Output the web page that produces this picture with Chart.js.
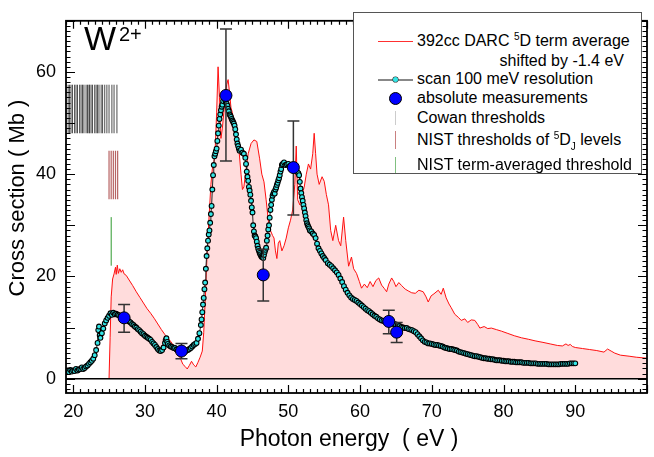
<!DOCTYPE html>
<html lang="en">
<head>
<meta charset="UTF-8" />
<title>W2+ photoionization cross section</title>
<script src="https://cdn.jsdelivr.net/npm/chart.js@4.4.1/dist/chart.umd.min.js"></script>
<style>
  body { margin: 0; background: #fff; }
  .wrap {
    position: relative;
    width: 654px;
    height: 457px;
    font-family: "Liberation Sans", Arial, Helvetica, sans-serif;
    color: #000;
  }
  canvas { position: absolute; left: 0; top: 0; }
  .ion { position: absolute; left: 84px; top: 21px; font-size: 34px; line-height: 34px; }
  .ion-sup { position: absolute; left: 119px; top: 24px; font-size: 20px; line-height: 20px; }
  .legend {
    position: absolute;
    left: 353px;
    top: 12px;
    width: 287px;
    height: 160px;
    border: 1px solid #555;
    background: #fff;
    font-size: 16px;
  }
  .row { position: absolute; left: 63px; height: 20px; line-height: 20px; white-space: nowrap; }
  .row.right { left: auto; right: 17px; }
  .sup { font-size: 10px; position: relative; top: -6px; }
  .sub { font-size: 10px; position: relative; top: 5px; }
  .sym { position: absolute; }
  .hline { height: 1px; width: 35px; left: 24px; }
  .vline { width: 1px; left: 41px; }
</style>
</head>
<body>
<div class="wrap">
  <canvas id="chart" width="654" height="457"></canvas>
  <div class="ion">W</div>
  <div class="ion-sup">2+</div>
  <div class="legend">
    <div class="sym hline" style="top:28px; background:#ff3030;"></div>
    <div class="row" style="top:18px;">392cc DARC <span class="sup">5</span>D term average</div>
    <div class="row right" style="top:38px;">shifted by -1.4 eV</div>
    <div class="sym hline" style="top:66px; height:2px; background:#888;"></div>
    <div class="sym" style="left:39px; top:64px; width:5px; height:5px; border-radius:50%; background:#33e6e6; box-shadow:0 0 0 0.6px #333;"></div>
    <div class="row" style="top:56px;">scan 100 meV resolution</div>
    <div class="sym" style="left:35px; top:79px; width:11px; height:11px; border-radius:50%; background:#0000ff; border:1px solid #000;"></div>
    <div class="row" style="top:75px;">absolute measurements</div>
    <div class="sym vline" style="top:98px; height:14px; background:#cccccc;"></div>
    <div class="row" style="top:95px;">Cowan thresholds</div>
    <div class="sym vline" style="top:118px; height:18px; background:#c98080;"></div>
    <div class="row" style="top:117px;">NIST thresholds of <span class="sup">5</span>D<span class="sub">J</span> levels</div>
    <div class="sym vline" style="top:144px; height:16px; background:#80c080;"></div>
    <div class="row" style="top:142px;">NIST term-averaged threshold</div>
  </div>
</div>
<script>
  // theory: 392cc DARC, shifted by -1.4 eV
  const theoryE = [25.0, 25.15, 25.3, 25.5, 25.7, 25.9, 26.0, 26.15, 26.3, 26.5, 26.7, 26.9, 27.1, 27.4, 27.8,
    28.3, 28.8, 29.3, 29.8, 30.3, 30.8, 31.3, 31.8, 32.3, 32.8, 33.3, 33.8, 34.3, 34.7, 35.0, 35.3, 35.6, 35.9,
    36.2, 36.5, 36.8, 37.1, 37.4, 37.7, 38.0, 38.2, 38.4, 38.6, 38.8, 39.0, 39.2, 39.4, 39.6, 39.8, 40.0, 40.2,
    40.4, 40.6, 40.8, 41.0, 41.2, 41.4, 41.6, 41.8, 42.0, 42.2, 42.5, 42.8, 43.1, 43.4, 43.6, 43.8, 44.1, 44.4,
    44.8, 45.2, 45.6, 46.0, 46.3, 46.6, 46.9, 47.2, 47.5, 47.8, 48.0, 48.2, 48.4, 48.6, 48.8, 49.1, 49.4, 49.7,
    50.0, 50.3, 50.6, 50.9, 51.1, 51.3, 51.6, 51.9, 52.2, 52.5, 52.8, 53.1, 53.4, 53.6, 53.8, 54.0, 54.3, 54.7,
    55.0, 55.3, 55.6, 55.9, 56.2, 56.6, 57.0, 57.3, 57.7, 58.0, 58.4, 58.8, 59.1, 59.5, 59.9, 60.2, 60.6, 61.0,
    61.4, 61.8, 62.2, 62.6, 63.0, 63.4, 63.7, 64.0, 64.4, 64.7, 65.0, 65.4, 65.8, 66.3, 66.8, 67.2, 67.7, 68.2,
    68.8, 69.2, 69.5, 69.9, 70.3, 70.9, 71.3, 71.6, 72.0, 72.4, 72.7, 73.2, 73.7, 74.1, 74.6, 75.0, 75.5, 76.0,
    76.4, 76.7, 77.3, 77.8, 78.3, 79.0, 79.7, 80.5, 81.5, 82.5, 83.5, 84.4, 85.5, 86.5, 87.5, 88.2, 88.7, 89.0,
    89.3, 89.6, 90.0, 91.0, 92.0, 93.0, 94.0, 94.5, 95.0, 95.5, 96.3, 97.5, 98.5, 100.0];
  const theoryS = [0, 8, 16, 19.5, 20.5, 21.8, 20.4, 22.2, 20.6, 21.5, 20.8, 21.3, 20.5, 20.2, 19.3,
    18.2, 17.0, 15.9, 14.8, 13.7, 12.8, 11.8, 10.7, 9.6, 8.6, 7.8, 6.9, 5.9, 5.0, 3.8, 2.8, 2.4, 1.9,
    2.6, 3.4, 2.7, 2.3, 3.2, 4.2, 5.4, 9, 15, 22, 28, 33, 38, 41, 42, 45, 52, 61,
    55, 47, 49, 52, 55, 57.5, 58.5, 56, 53, 52, 49, 47, 45, 40, 37, 37.5, 41, 44,
    46, 46.7, 46.4, 43, 40, 38.5, 35, 31, 29, 28, 27.5, 25, 23.5, 26.5, 27, 25, 26, 27.5,
    29.5, 31, 33, 38, 45.5, 35, 34, 36, 37.4, 40, 42, 41, 44, 48, 44, 40, 38, 39.5,
    38.6, 36, 34, 29, 27, 30, 27, 26, 31.6, 27, 22, 23.8, 21.5, 20.6, 19, 17.7, 18.5, 17.8,
    19, 18, 19.2, 19.7, 18.3, 17.6, 17, 18.5, 19.7, 19.0, 18.0, 18.8, 18.2, 17.5, 17.1, 16.8, 16.7, 17.3,
    17.0, 16.0, 15.0, 16.2, 16.6, 17.3, 16.5, 17.7, 15.8, 14.6, 13.9, 12.6, 12.0, 11.4, 11.7, 11.0, 11.5, 11.4,
    10.6, 9.9, 10.2, 9.8, 9.9, 9.6, 9.3, 8.9, 8.4, 8.0, 7.7, 7.4, 7.1, 6.8, 6.5, 6.4, 6.8, 6.5,
    6.7, 6.3, 6.1, 5.9, 5.7, 5.5, 5.2, 5.8, 5.4, 5.0, 4.6, 4.4, 4.2, 4.0];

  // scan, 100 meV resolution
  const scanE = [19.2, 19.4, 19.6, 19.8, 20.0, 20.2, 20.4, 20.6, 20.8, 21.0, 21.2, 21.4, 21.6, 21.8, 22.0,
    22.2, 22.4, 22.6, 22.8, 23.0, 23.2, 23.4, 23.5, 23.6, 23.7, 23.8, 24.0, 24.2, 24.4, 24.6, 24.8, 25.0,
    25.2, 25.4, 25.6, 25.8, 26.0, 26.2, 26.4, 26.6, 26.8, 27.0, 27.2, 27.4, 27.6, 27.8, 28.0, 28.2, 28.4,
    28.6, 28.8, 29.0, 29.2, 29.4, 29.6, 29.8, 30.0, 30.2, 30.4, 30.6, 30.8, 31.0, 31.2, 31.4, 31.6, 31.8,
    32.0, 32.2, 32.4, 32.6, 32.8, 32.9, 33.0, 33.1, 33.2, 33.4, 33.6, 33.8, 34.0, 34.2, 34.4, 34.6, 34.8,
    35.0, 35.2, 35.4, 35.6, 35.8, 36.0, 36.2, 36.4, 36.6, 36.8, 37.0, 37.2, 37.4, 37.6, 37.8, 37.9,
    38.0, 38.1, 38.2, 38.3, 38.4, 38.5, 38.6, 38.7, 38.8, 38.9, 39.0, 39.1, 39.2, 39.3, 39.4, 39.5,
    39.6, 39.7, 39.8, 39.9, 40.0, 40.1, 40.2, 40.3, 40.4, 40.5, 40.6, 40.7, 40.8, 40.9, 41.0, 41.1, 41.2, 41.3,
    41.4, 41.5, 41.6, 41.7, 41.8, 41.9, 42.0, 42.1, 42.2, 42.3, 42.4, 42.5, 42.6, 42.7, 42.8, 42.9, 43.0, 43.1,
    43.2, 43.4, 43.6, 43.8, 44.0, 44.1, 44.2, 44.3, 44.4, 44.5, 44.6, 44.7, 44.8, 44.9, 45.0, 45.1, 45.2, 45.3,
    45.4, 45.5, 45.6, 45.7, 45.8, 45.9, 46.0, 46.1, 46.2, 46.3, 46.4, 46.5, 46.6, 46.7, 46.8, 46.9, 47.0, 47.1,
    47.2, 47.3, 47.4, 47.5, 47.6, 47.7, 47.8, 47.9, 48.0, 48.1, 48.2, 48.3, 48.4, 48.5, 48.6, 48.7, 48.8, 48.9,
    49.0, 49.1, 49.2, 49.4, 49.6, 49.8, 50.0, 50.2, 50.4, 50.6, 50.8, 51.0, 51.2, 51.4, 51.5, 51.6, 51.7, 51.8,
    51.9, 52.0, 52.1, 52.2, 52.3, 52.4, 52.5, 52.6, 52.7, 52.8, 52.9, 53.0, 53.2, 53.4, 53.6, 53.8, 54.0, 54.2,
    54.4, 54.6, 54.8, 55.0, 55.2, 55.5, 55.75, 56.0, 56.25, 56.5, 56.75, 57.0, 57.25, 57.5, 57.75, 58.0, 58.25,
    58.5, 58.75, 59.0, 59.25, 59.5, 59.75, 60.0, 60.25, 60.5, 60.75, 61.0, 61.25, 61.5, 61.75, 62.0, 62.25,
    62.5, 62.75, 63.0, 63.25, 63.5, 63.75, 64.0, 64.25, 64.5, 64.75, 65.0, 65.25, 65.5, 65.75, 66.0, 66.25,
    66.5, 66.75, 67.0, 67.25, 67.5, 67.75, 68.0, 68.25, 68.5, 68.75, 69.0, 69.25, 69.5, 69.75, 70.0, 70.25,
    70.5, 70.75, 71.0, 71.25, 71.5, 71.75, 72.0, 72.25, 72.5, 72.75, 73.0, 73.25, 73.5, 73.75, 74.0, 74.25,
    74.5, 74.75, 75.0, 75.25, 75.5, 75.75, 76.0, 76.25, 76.5, 76.75, 77.0, 77.25, 77.5, 77.75, 78.0, 78.25,
    78.5, 78.75, 79.0, 79.25, 79.5, 79.75, 80.0, 80.25, 80.5, 80.75, 81.0, 81.25, 81.5, 81.75, 82.0, 82.25,
    82.5, 82.75, 83.0, 83.25, 83.5, 83.75, 84.0, 84.25, 84.5, 84.75, 85.0, 85.25, 85.5, 85.75, 86.0, 86.25,
    86.5, 86.75, 87.0, 87.25, 87.5, 87.75, 88.0, 88.25, 88.5, 88.75, 89.0, 89.25, 89.5, 89.75, 90.0];
  const scanS = [1.6, 1.3, 1.7, 1.4, 1.6, 1.5, 1.9, 1.6, 1.8, 1.9, 2.2, 1.9, 2.1, 2.4, 2.6,
    2.9, 3.2, 3.5, 3.9, 4.6, 5.6, 7.0, 9.5, 10.2, 8.5, 8.0, 8.9, 9.8, 10.8, 11.4, 11.9, 12.3,
    12.8, 12.5, 12.9, 12.6, 12.7, 12.5, 12.4, 12.2, 12.1, 11.9, 11.6, 11.5, 11.4, 11.2, 11.0, 10.7, 10.5,
    10.2, 10.0, 9.7, 9.5, 9.2, 8.9, 8.7, 8.4, 8.2, 8.0, 7.8, 7.6, 7.2, 6.9, 6.6, 6.2, 5.8,
    5.5, 5.4, 5.6, 6.1, 7.0, 7.6, 7.9, 7.2, 6.8, 6.5, 6.3, 6.2, 6.0, 6.0, 5.7, 5.5, 5.4,
    5.3, 5.3, 5.2, 5.3, 5.5, 5.6, 5.8, 6.0, 6.3, 6.6, 6.8, 7.0, 7.8, 8.9, 10.5, 11.6,
    13.0, 14.5, 15.8, 17.5, 18.8, 21.5, 24.0, 25.5, 27.0, 28.2, 29.0, 30.5, 32.2, 33.8, 37.0, 39.8,
    41.8, 43.5, 44.0, 44.5, 45.0, 46.5, 48.0, 49.5, 50.8, 51.7, 52.5, 53.2, 53.6, 54.3, 55.0, 55.2, 54.5, 54.0,
    53.8, 53.4, 52.8, 52.3, 51.7, 51.5, 51.2, 50.8, 50.5, 50.2, 49.9, 49.5, 48.8, 47.8, 46.8, 46.0, 45.5, 45.0,
    44.6, 44.8, 44.2, 44.0, 43.2, 42.0, 40.5, 39.5, 38.7, 37.5, 36.8, 36.0, 34.8, 33.5, 32.5, 30.0, 28.8, 28.0,
    27.8, 27.5, 26.8, 26.0, 25.4, 25.0, 24.6, 24.3, 24.0, 23.8, 23.8, 23.6, 24.2, 24.8, 25.2, 25.6, 27.0, 28.0,
    29.2, 30.0, 31.5, 33.0, 34.0, 35.0, 35.8, 36.2, 36.5, 36.2, 37.0, 37.4, 37.9, 38.3, 38.8, 39.2, 39.8, 40.5,
    41.0, 41.8, 42.0, 42.3, 41.8, 41.9, 42.0, 41.6, 41.5, 41.3, 41.0, 40.8, 40.5, 40.2, 39.8, 38.5, 37.2, 36.3,
    35.5, 34.8, 34.0, 33.3, 32.5, 31.8, 31.0, 30.4, 30.0, 29.7, 29.4, 29.0, 28.8, 28.4, 28.1, 27.5, 26.4, 25.5,
    25.0, 24.5, 24.0, 23.6, 23.2, 22.6, 22.3, 22.0, 21.6, 21.2, 20.8, 20.3, 19.6, 18.9, 18.1, 17.4, 16.8,
    16.3, 15.9, 15.6, 15.4, 15.2, 14.9, 14.6, 14.3, 14.0, 13.7, 13.4, 13.2, 12.9, 12.6, 12.3, 12.1,
    11.8, 11.6, 11.4, 11.3, 11.2, 11.1, 11.0, 10.9, 10.8, 10.7, 10.6, 10.5, 10.3, 10.1, 10.0, 9.9,
    9.9, 9.7, 9.6, 9.5, 9.3, 9.1, 8.7, 8.3, 7.9, 7.5, 7.2, 7.1, 6.9, 6.9, 6.8, 6.7,
    6.6, 6.6, 6.5, 6.4, 6.3, 6.1, 6.0, 5.9, 5.8, 5.8, 5.7, 5.6, 5.5, 5.3, 5.2, 5.1,
    5.0, 4.9, 4.8, 4.7, 4.6, 4.5, 4.4, 4.4, 4.3, 4.2, 4.1, 4.0, 4.0, 3.9, 3.9, 3.8,
    3.8, 3.7, 3.6, 3.6, 3.6, 3.5, 3.5, 3.4, 3.4, 3.4, 3.3, 3.3, 3.3, 3.2, 3.2, 3.2,
    3.2, 3.1, 3.1, 3.1, 3.1, 3.0, 3.0, 3.0, 3.0, 2.9, 2.9, 2.9, 2.9, 2.9, 2.9, 2.8,
    2.8, 2.8, 2.8, 2.8, 2.8, 2.8, 2.9, 2.9, 2.9, 2.9, 2.9, 3.0, 3.0, 3.0, 3.0];

  // absolute measurements with error bars
  const absE = [27.1, 35.1, 41.3, 46.5, 50.7, 64.0, 65.1];
  const absS = [11.9, 5.4, 55.4, 20.3, 41.3, 11.2, 9.1];
  const absLo = [9.1, 3.9, 42.6, 15.2, 32.0, 8.8, 7.1];
  const absHi = [14.5, 6.9, 68.4, 25.3, 50.4, 13.4, 11.0];

  // thresholds: energies and the vertical span of each group
  const cowanE = [19.3, 19.5, 19.7, 19.9, 20.2, 20.4, 20.6, 20.9, 21.1, 21.3, 21.5, 21.8, 22.0, 22.2, 22.3,
    22.5, 22.7, 23.0, 23.2, 23.4, 23.6, 23.9, 24.1, 24.4, 24.7, 25.0, 25.4, 25.7, 26.1];
  const cowanSpan = [48, 57.5];
  const nistE = [25.0, 25.3, 25.6, 25.9, 26.2];
  const nistSpan = [35.1, 44.6];
  const nistAvgE = [25.3];
  const nistAvgSpan = [22.1, 31.6];

  // axes
  const xRange = [19, 100];
  const yRange = [-2.8, 70];
  const xTicks = [20, 30, 40, 50, 60, 70, 80, 90];
  const yTicks = [0, 20, 40, 60];
  const xMinorStep = 1;
  const yMinorStep = 1;

  const font = '"Liberation Sans", Arial, Helvetica, sans-serif';

  function points(xs, ys) {
    return xs.map((x, i) => ({ x: x, y: ys[i] }));
  }

  function vlines(es, span) {
    const pts = [];
    es.forEach((e) => {
      pts.push({ x: e, y: span[0] }, { x: e, y: span[1] }, { x: e, y: null });
    });
    return pts;
  }

  const SCAN = 1;
  const THEORY = 5;

  const framePlugin = {
    id: "frame",
    afterDatasetDraw(chart, args) {
      const { ctx, chartArea: a, scales } = chart;
      const x = scales.x, y = scales.y;
      if (args.index === THEORY) {
        // zero line
        const y0 = y.getPixelForValue(0);
        ctx.save();
        ctx.strokeStyle = "#000";
        ctx.lineWidth = 1.5;
        ctx.beginPath();
        ctx.moveTo(a.left, y0);
        ctx.lineTo(a.right, y0);
        ctx.stroke();
        ctx.restore();
      }
      if (args.index === SCAN) {
        // error bars of the absolute measurements
        ctx.save();
        ctx.strokeStyle = "#333";
        ctx.lineWidth = 1.5;
        absE.forEach((e, i) => {
          const px = x.getPixelForValue(e);
          const lo = y.getPixelForValue(absLo[i]);
          const hi = y.getPixelForValue(absHi[i]);
          ctx.beginPath();
          ctx.moveTo(px, lo);
          ctx.lineTo(px, hi);
          ctx.moveTo(px - 6, lo);
          ctx.lineTo(px + 6, lo);
          ctx.moveTo(px - 6, hi);
          ctx.lineTo(px + 6, hi);
          ctx.stroke();
        });
        ctx.restore();
      }
    },
    afterDraw(chart) {
      const { ctx, chartArea: a, scales } = chart;
      const x = scales.x, y = scales.y;
      ctx.save();
      ctx.strokeStyle = "#000";
      ctx.lineWidth = 1.2;
      ctx.beginPath();
      for (let v = Math.ceil(xRange[0]); v <= xRange[1]; v += xMinorStep) {
        const px = Math.round(x.getPixelForValue(v)) + 0.5;
        const len = v % 10 === 0 ? 8 : 4;
        ctx.moveTo(px, a.bottom);
        ctx.lineTo(px, a.bottom - len);
        ctx.moveTo(px, a.top);
        ctx.lineTo(px, a.top + len);
      }
      for (let v = Math.ceil(yRange[0]); v <= yRange[1]; v += yMinorStep) {
        const py = Math.round(y.getPixelForValue(v)) + 0.5;
        const len = v % 10 === 0 ? 9 : 4.5;
        ctx.moveTo(a.left, py);
        ctx.lineTo(a.left + len, py);
        ctx.moveTo(a.right, py);
        ctx.lineTo(a.right - len, py);
      }
      ctx.stroke();
      ctx.lineWidth = 1.8;
      ctx.strokeRect(a.left, a.top, a.right - a.left, a.bottom - a.top);

      // axis titles
      ctx.fillStyle = "#000";
      ctx.textAlign = "center";
      ctx.textBaseline = "middle";
      ctx.font = "23px " + font;
      ctx.fillText("Photon energy  ( eV )", 349, 440);
      ctx.font = "22px " + font;
      ctx.translate(18, 198);
      ctx.rotate(-Math.PI / 2);
      ctx.fillText("Cross section ( Mb )", 0, 0);
      ctx.restore();
    },
  };

  const tickFont = { family: font, size: 18 };

  new Chart(document.getElementById("chart"), {
    type: "line",
    data: {
      datasets: [
        {
          label: "absolute measurements",
          data: points(absE, absS),
          showLine: false,
          pointRadius: 6,
          pointBackgroundColor: "#0000ff",
          pointBorderColor: "#000",
          pointBorderWidth: 1,
        },
        {
          label: "scan 100 meV resolution",
          data: points(scanE, scanS),
          borderColor: "#222",
          borderWidth: 1,
          pointRadius: 2.4,
          pointBackgroundColor: "#33e6e6",
          pointBorderColor: "#000",
          pointBorderWidth: 1.1,
        },
        {
          label: "NIST term-averaged threshold",
          data: vlines(nistAvgE, nistAvgSpan),
          borderColor: "#2f9a2f",
          borderWidth: 1,
          pointRadius: 0,
          spanGaps: false,
        },
        {
          label: "NIST thresholds of 5DJ levels",
          data: vlines(nistE, nistSpan),
          borderColor: "rgba(165,60,60,0.8)",
          borderWidth: 1.2,
          pointRadius: 0,
          spanGaps: false,
        },
        {
          label: "Cowan thresholds",
          data: vlines(cowanE, cowanSpan),
          borderColor: "rgba(0,0,0,0.7)",
          borderWidth: 1,
          pointRadius: 0,
          spanGaps: false,
        },
        {
          label: "392cc DARC 5D term average",
          data: points(theoryE, theoryS),
          borderColor: "#ff1010",
          borderWidth: 1,
          backgroundColor: "#ffdcdc",
          fill: "origin",
          pointRadius: 0,
        },
      ],
    },
    options: {
      responsive: false,
      animation: false,
      devicePixelRatio: 1,
      layout: { padding: { top: 2, right: 4, left: 0, bottom: 0 } },
      plugins: { legend: { display: false }, tooltip: { enabled: false } },
      scales: {
        x: {
          type: "linear",
          min: xRange[0],
          max: xRange[1],
          grid: { display: false, drawTicks: false },
          border: { display: false },
          ticks: { font: tickFont, color: "#000", padding: 8, maxRotation: 0 },
          afterBuildTicks(scale) {
            scale.ticks = xTicks.map((v) => ({ value: v }));
          },
          afterFit(scale) {
            scale.height = 64;
          },
        },
        y: {
          type: "linear",
          min: yRange[0],
          max: yRange[1],
          grid: { display: false, drawTicks: false },
          border: { display: false },
          ticks: { font: tickFont, color: "#000", padding: 10 },
          afterBuildTicks(scale) {
            scale.ticks = yTicks.map((v) => ({ value: v }));
          },
          afterFit(scale) {
            scale.width = 66;
          },
        },
      },
    },
    plugins: [framePlugin],
  });
</script>
</body>
</html>
